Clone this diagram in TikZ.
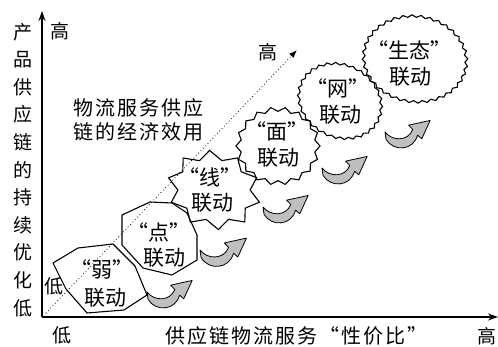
\documentclass[tikz,border=0pt]{standalone}
\usepackage{fontspec}
\setmainfont{Noto Sans CJK SC}
\usetikzlibrary{arrows.meta}
\newcommand\jagshape[8]{%
  \draw[shp, shift={(#1,#2)}, rotate=#7] plot[samples=#8, domain=0:360, variable=\t]
    ({#3*(1-#6*mod(round(\t*#5/180),2))*cos(\t)},{#4*(1-#6*mod(round(\t*#5/180),2))*sin(\t)}) -- cycle;}
\begin{document}
\begin{tikzpicture}[x=1pt,y=-1pt,
  shp/.style={line width=1.1pt, line join=miter},
  txt/.style={inner sep=0pt, font=\fontsize{19}{23}\selectfont},
  intxt/.style={inner sep=0pt, font=\fontsize{21}{24}\selectfont},
  axis/.style={line width=1.6pt, -{Stealth[length=10pt,width=7pt]}},
  curvarr/.pic={\draw[fill=gray!50, line width=0.8pt, line join=round]
     (0,0) -- (1,7) .. controls (8,19) and (27,18) .. (31,3)
     -- (35,6.5) -- (43,-11) -- (22.5,-6.5) -- (26.5,-2.4)
     .. controls (22,9) and (7,9) .. (0,0) -- cycle;}]
\useasboundingbox (0,0) rectangle (498,347);
% axes
\coordinate (O) at (42,317);
\coordinate (ytop) at (42,11);
\coordinate (xend) at (498,317);
\draw[axis] (O) -- (ytop);
\draw[axis] (O) -- (xend);
% dotted arrow
\coordinate (d0) at (46,313);
\coordinate (d1) at (297,50);
\draw[line width=1.1pt, line cap=round, dash pattern=on 0pt off 3.4pt, -{Latex[length=8pt,width=6pt]}] (d0) -- (d1);
% labels
\node[txt] (yh) at (60,31) {高};
\node[txt, align=center, font=\fontsize{19}{27.6}\selectfont] (yl) at (23,170)
  {产\\品\\供\\应\\链\\的\\持\\续\\优\\化\\低};
\node[txt] (xl0) at (62,335) {低};
\node[txt] (xh) at (487,336) {高};
\node[txt, font=\fontsize{20}{24}\selectfont\addfontfeature{LetterSpace=10}] (xl) at (296,336) {供应链物流服务“性价比”};
\node[txt] (lowin) at (54,286) {低};
\node[txt] (dh) at (268,52) {高};
\node[txt, align=center, font=\fontsize{20}{24}\selectfont\addfontfeature{LetterSpace=10}] (eff) at (138,120) {物流服务供应\\链的经济效用};
% shapes
\draw[shp] (53,263) -- (78,248) -- (113,244) -- (135,266) -- (147,295) -- (124,310) -- (87,313) -- (66,289) -- cycle;
\draw[shp] (122,215) -- (150,202) -- (172,203) -- (187,213) -- (197,235) -- (197,260) -- (172,275) -- (143,268) -- (122,245) -- cycle;
\jagshape{214}{190}{47}{39}{10}{0.22}{-15}{21}
\jagshape{278}{146}{42}{39}{18}{0.11}{0}{37}
\jagshape{340}{101}{44}{37}{30}{0.06}{-28}{61}
\jagshape{415}{59}{53}{44}{36}{0.055}{-8}{73}
% texts in shapes
\node[intxt] (t1a) at (102,269) {“弱”};
\node[intxt] (t1b) at (105,298) {联动};
\node[intxt] (t2a) at (159,232) {“点”};
\node[intxt] (t2b) at (164,258) {联动};
\node[intxt] (t3a) at (210,177) {“线”};
\node[intxt] (t3b) at (212,203) {联动};
\node[intxt] (t4a) at (277,131) {“面”};
\node[intxt] (t4b) at (278,158) {联动};
\node[intxt] (t5a) at (338,88) {“网”};
\node[intxt] (t5b) at (340,115) {联动};
\node[intxt] (t6a) at (409,50) {“生态”};
\node[intxt] (t6b) at (410,77) {联动};
% curved arrows
\pic[scale=1.05] at (147,292) {curvarr};
\pic[scale=1.08] at (200,250) {curvarr};
\pic[scale=1.05] at (263,207) {curvarr};
\pic[scale=1.05] at (322,168) {curvarr};
\pic[scale=1.05] at (385,132) {curvarr};
\end{tikzpicture}
\end{document}
